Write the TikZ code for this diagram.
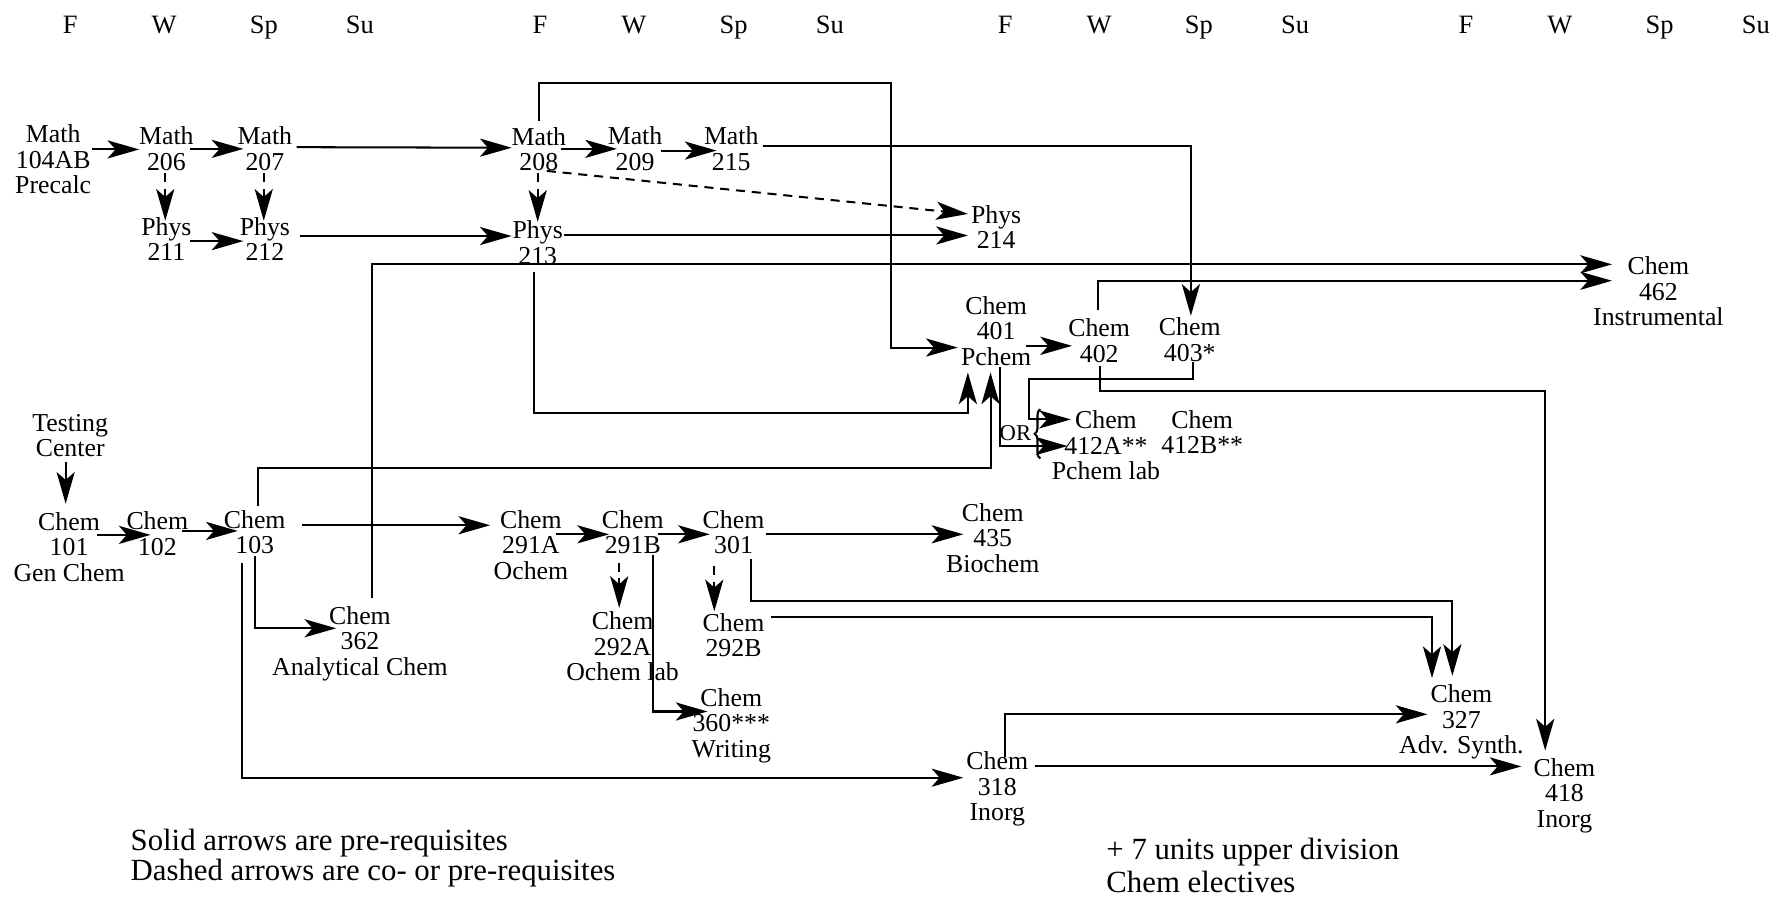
\documentclass[tikz,border=0pt]{standalone}
\usepackage{fontspec}
\setmainfont{Liberation Serif}
\usetikzlibrary{arrows.meta,calc,decorations.pathreplacing}
\tikzset{
  crs/.style={font=\fontsize{11.4}{11.25}\selectfont, align=center, inner sep=0.5pt},
  hdr/.style={font=\fontsize{11.7}{12}\selectfont, inner sep=0pt, anchor=base},
  note/.style={font=\fontsize{13.6}{13}\selectfont, anchor=west, inner sep=0pt},
  small/.style={font=\fontsize{10}{10}\selectfont, inner sep=0pt},
  arr/.style={-{Stealth[length=14pt,width=8pt,inset=3.5pt]}, line width=0.9pt},
  darr/.style={arr, dash pattern=on 4pt off 3pt},
  ln/.style={line width=0.9pt},
}
\begin{document}
\begin{tikzpicture}[x=0.5pt,y=-0.5pt]
\useasboundingbox (0,0) rectangle (1568,793);
% header
\foreach \i/\dx in {0/0,1/415,2/826,3/1233}{
  \node[hdr] (hF\i) at (62+\dx,30) {F};
  \node[hdr] (hW\i) at (145+\dx,30) {W};
  \node[hdr] (hSp\i) at (233+\dx,30) {Sp};
  \node[hdr] (hSu\i) at (318+\dx,30) {Su};
}
% nodes
\node[crs] (m104) at (47,141) {Math\\104AB\\Precalc};
\node[crs] (m206) at (147,131.5) {Math\\206};
\node[crs] (m207) at (234,131.5) {Math\\207};
\node[crs] (m208) at (476,132) {Math\\208};
\node[crs] (m209) at (561,131.5) {Math\\209};
\node[crs] (m215) at (646,131.5) {Math\\215};
\node[crs] (p211) at (147,211) {Phys\\211};
\node[crs] (p212) at (234,211) {Phys\\212};
\node[crs] (p213) at (475,214.5) {Phys\\213};
\node[crs] (p214) at (880,200.5) {Phys\\214};
\node[crs] (c462) at (1465,257.5) {Chem\\462\\Instrumental};
\node[crs] (c401) at (880,292.5) {Chem\\401\\Pchem};
\node[crs] (c402) at (971,301) {Chem\\402};
\node[crs] (c403) at (1051,300) {Chem\\403*};
\node[crs] (c412A) at (977,393.5) {Chem\\412A**\\Pchem lab};
\node[crs] (c412B) at (1062,381.5) {Chem\\412B**};
\node[crs] (tc) at (62,385) {Testing\\Center};
\node[crs] (c101) at (61,483) {Chem\\101\\Gen Chem};
\node[crs] (c102) at (139,471.5) {Chem\\102};
\node[crs] (c103) at (225,470) {Chem\\103};
\node[crs] (c291A) at (469,481.5) {Chem\\291A\\Ochem};
\node[crs] (c291B) at (559,470) {Chem\\291B};
\node[crs] (c301) at (648,470) {Chem\\301};
\node[crs] (c435) at (877,475) {Chem\\435\\Biochem};
\node[crs] (c362) at (318,568.5) {Chem\\362\\Analytical Chem};
\node[crs] (c292A) at (550,571) {Chem\\292A\\Ochem lab};
\node[crs] (c292B) at (648,561) {Chem\\292B};
\node[crs] (c360) at (646,641) {Chem\\360***\\Writing};
\node[crs] (c327) at (1291,638) {Chem\\327\\Adv. Synth.};
\node[crs] (c318) at (881,697) {Chem\\318\\Inorg};
\node[crs] (c418) at (1382,703) {Chem\\418\\Inorg};
\node[small] (or) at (897,383) {OR};
% notes
\node[note] (leg1) at (115,745) {Solid arrows are pre-requisites};
\node[note] (leg2) at (115,771) {Dashed arrows are co- or pre-requisites};
\node[note] (el1) at (977,753) {+ 7 units upper division};
\node[note] (el2) at (977,779) {Chem electives};
% math / phys
\draw[arr] ($(m104)+(34,-9)$) -- ($(m206)+(-24,0.5)$);
\draw[arr] ($(m206)+(21,0)$) -- ($(m207)+(-19,0)$);
\draw[arr] ($(m207)+(28,-1.5)$) -- ($(m208)+(-24,-1.5)$);
\draw[arr] ($(m208)+(20,-0.5)$) -- ($(m209)+(-16,0)$);
\draw[arr] ($(m209)+(23,1.5)$) -- ($(m215)+(-13,1.5)$);
\draw[arr] ($(m215)+(28,-2.5)$) -| ($(c403)+(1,-21)$);
\draw[arr] ($(m208)+(0,-25)$) -- ($(m208)+(0,-59)$) -| ($(c401)+(-93,14.5)$) -- ($(c401)+(-34,14.5)$);
\draw[darr] ($(m206)+(-1,21.5)$) -- ($(p211)+(-1,-16)$);
\draw[darr] ($(m207)+(-1,21.5)$) -- ($(p212)+(-1,-16)$);
\draw[darr] ($(m208)+(-1,21)$) -- ($(p213)+(0,-18.5)$);
\draw[darr] ($(m208)+(7,19)$) -- ($(p214)+(-25,-11.5)$);
\draw[arr] ($(p211)+(21,2)$) -- ($(p212)+(-19,2)$);
\draw[arr] ($(p212)+(31,-2.5)$) -- ($(p213)+(-23,-6)$);
\draw[arr] ($(p213)+(23,-6.5)$) -- ($(p214)+(-25,7.5)$);
\draw[arr] ($(p213)+(-3,25.5)$) |- ($(c401)+(-25,72.5)$) -- ($(c401)+(-25,36.5)$);
% 400s
\draw[arr] ($(c362)+(11,-40)$) |- ($(c462)+(-41,-24)$);
\draw[arr] ($(c402)+(-1,-27)$) |- ($(c462)+(-41,-9.5)$);
\draw[arr] ($(c401)+(26,13)$) -- ($(c402)+(-24,4.5)$);
\draw[arr] ($(c103)+(3,-23)$) |- ($(c401)+(-5,120.5)$) -- ($(c401)+(-5,36.5)$);
\draw[arr] ($(c401)+(3,31.5)$) |- ($(c412A)+(-34,0.5)$);
\draw[arr] ($(c403)+(3,20)$) -- ($(c403)+(3,35)$) -| ($(c412A)+(-68,-23)$) -- ($(c412A)+(-31,-23)$);
\draw[arr] ($(c402)+(1,22)$) |- ($(c418)+(-17,-358)$) -- ($(c418)+(-17,-40)$);
\draw[ln, decorate, decoration={brace, amplitude=2.5pt}] ($(c412A)+(-58,11.5)$) -- ($(c412A)+(-58,-32)$);
% chem chain
\draw[arr] ($(tc)+(-4,23)$) -- ($(c101)+(-3,-38)$);
\draw[arr] ($(c101)+(25,-10.5)$) -- ($(c102)+(-6,1)$);
\draw[arr] ($(c102)+(22,-2.5)$) -- ($(c103)+(-15,-1)$);
\draw[arr] ($(c103)+(42,-6)$) -- ($(c291A)+(-36,-17.5)$);
\draw[arr] ($(c291A)+(22,-9.5)$) -- ($(c291B)+(-21,2)$);
\draw[arr] ($(c291B)+(22,2)$) -- ($(c301)+(-21,2)$);
\draw[arr] ($(c301)+(29,2)$) -- ($(c435)+(-26,-3)$);
\draw[arr] ($(c103)+(0,21)$) |- ($(c362)+(-21,-13.5)$);
\draw[arr] ($(c103)+(-11,27)$) |- ($(c318)+(-30,-10)$);
\draw[darr] ($(c291B)+(-12,27)$) -- ($(c292A)+(-3,-34)$);
\draw[darr] ($(c301)+(-17,30)$) -- ($(c292B)+(-17,-21)$);
\draw[arr] ($(c291B)+(18,20)$) |- ($(c360)+(-21,-12.5)$);
\draw[arr] ($(c301)+(15,24)$) |- ($(c327)+(-8,-107)$) -- ($(c327)+(-8,-41)$);
\draw[arr] ($(c292B)+(33,-16)$) -| ($(c327)+(-26,-39)$);
\draw[arr] ($(c318)+(7,-28)$) |- ($(c327)+(-30,-7)$);
\draw[arr] ($(c318)+(33,-20)$) -- ($(c418)+(-38,-26)$);
\end{tikzpicture}
\end{document}
